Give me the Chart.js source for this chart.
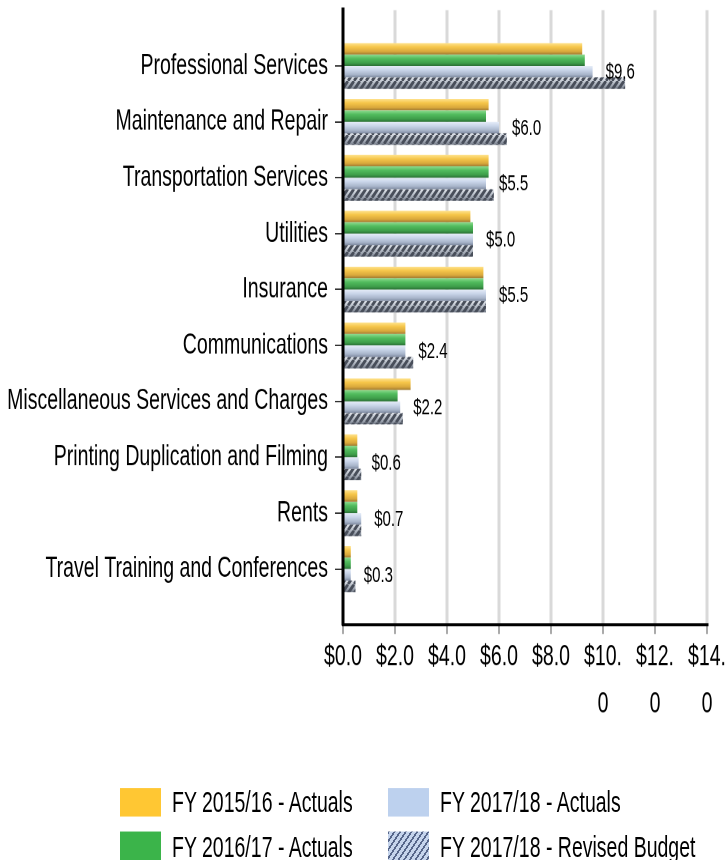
<!DOCTYPE html>
<html><head><meta charset="utf-8">
<script src="https://cdn.jsdelivr.net/npm/chart.js@4.4.1/dist/chart.umd.min.js"></script>
<style>
html,body{margin:0;padding:0;background:#fff;overflow:hidden;width:725px;height:860px;}
#wrap{position:absolute;left:0;top:0;width:725px;height:574px;transform-origin:0 0;transform:scaleY(1.49826);}
#c{position:absolute;left:0;top:0;}
.lg{position:absolute;font-family:'Liberation Sans',Arial,sans-serif;font-size:19.5px;line-height:20px;color:#000;white-space:nowrap;}
.bx{position:absolute;width:41px;height:19px;}
</style></head><body>
<div id="wrap"><canvas id="c" width="725" height="574"></canvas><div id="legend"></div></div>
<script>
// ---- data ----
const categories = ['Professional Services','Maintenance and Repair','Transportation Services','Utilities','Insurance','Communications','Miscellaneous Services and Charges','Printing Duplication and Filming','Rents','Travel Training and Conferences'];
const fy1516Actuals = [9.2, 5.6, 5.6, 4.9, 5.4, 2.4, 2.6, 0.55, 0.55, 0.3];
const fy1617Actuals = [9.3, 5.5, 5.6, 5.0, 5.4, 2.4, 2.1, 0.55, 0.55, 0.3];
const fy1718Actuals = [9.6, 6.0, 5.5, 5.0, 5.5, 2.4, 2.2, 0.6, 0.7, 0.3];
const fy1718Budget  = [10.85, 6.3, 5.8, 5.0, 5.5, 2.7, 2.3, 0.7, 0.7, 0.48];
const seriesNames = ['FY 2015/16 - Actuals','FY 2016/17 - Actuals','FY 2017/18 - Actuals','FY 2017/18 - Revised Budget'];
const xTickLabels = ['$0.0','$2.0','$4.0','$6.0','$8.0','$10.0','$12.0','$14.0'];

// ---- styles ----
const FONT = "'Liberation Sans', Arial, sans-serif";
const flatColors = ['#FFC733','#3BB44A','#BDD1EE','#C5D4EC'];
const gradStops = [
  [[0,'#FFE38E'],[0.35,'#F6C64A'],[0.75,'#D9A83C'],[1,'#A07A32']],
  [[0,'#8FDC90'],[0.35,'#52BC5E'],[0.75,'#3E9E4A'],[1,'#2A6E35']],
  [[0,'#E6EDF8'],[0.35,'#CAD6EA'],[0.75,'#A8B5CA'],[1,'#7E8AA0']],
  [[0,'#E2E6EC'],[0.35,'#C2C8D1'],[0.75,'#9AA1AD'],[1,'#6C7380']]
];

const pad = arr => [null, ...arr, null];
const labels = ['', ...categories, ''];

function makeHatch() {
  const k = 2, p = 6;
  const cv = document.createElement('canvas');
  cv.width = p * k; cv.height = p * k;
  const g = cv.getContext('2d');
  g.scale(k, k);
  g.strokeStyle = '#484E5A';
  g.lineWidth = 2.4;
  g.beginPath();
  for (let o = -p; o <= p * 2; o += p) { g.moveTo(o, p); g.lineTo(o + p, 0); }
  g.stroke();
  const ctx = document.getElementById('c').getContext('2d');
  const pat = ctx.createPattern(cv, 'repeat');
  pat.setTransform(new DOMMatrix([1 / k, 0, 0, 1 / k, 0, 0]));
  return pat;
}
let hatch = null;

const barStylePlugin = {
  id: 'barStyle',
  beforeDatasetsDraw(chart) {
    const ctx = chart.ctx;
    chart.data.datasets.forEach((ds, di) => {
      const meta = chart.getDatasetMeta(di);
      meta.data.forEach(el => {
        if (el.y == null || isNaN(el.y)) return;
        const top = el.y - el.height / 2, bot = el.y + el.height / 2;
        const g = ctx.createLinearGradient(0, top, 0, bot);
        gradStops[di].forEach(s => g.addColorStop(s[0], s[1]));
        const o = el.options, n = {};
        ['borderSkipped','borderWidth','borderColor','borderRadius','inflateAmount','pointStyle'].forEach(k => n[k] = o[k]);
        n.backgroundColor = g;
        el.options = n;
      });
    });
  },
  afterDatasetDraw(chart, args) {
    if (args.index !== 3) return;
    const ctx = chart.ctx;
    if (!hatch) hatch = makeHatch();
    args.meta.data.forEach(el => {
      if (el.y == null || isNaN(el.y)) return;
      const top = el.y - el.height / 2;
      const x0 = Math.min(el.base, el.x), w = Math.abs(el.x - el.base);
      ctx.save();
      ctx.fillStyle = hatch;
      ctx.fillRect(x0, top, w, el.height);
      ctx.restore();
    });
  },
  afterDatasetsDraw(chart) {
    const ctx = chart.ctx;
    const meta = chart.getDatasetMeta(2);
    const vals = chart.data.datasets[2].data;
    ctx.save();
    ctx.font = '15px ' + FONT;
    ctx.fillStyle = '#000';
    ctx.textAlign = 'left';
    ctx.textBaseline = 'middle';
    meta.data.forEach((el, i) => {
      const v = vals[i];
      if (v == null) return;
      ctx.fillText('$' + v.toFixed(1), el.x + 13, el.y + 0.5);
    });
    ctx.restore();
  }
};

Chart.defaults.font.family = FONT;

new Chart(document.getElementById('c'), {
  type: 'bar',
  data: {
    labels: labels,
    datasets: [
      { label: seriesNames[0], data: pad(fy1516Actuals), backgroundColor: flatColors[0] },
      { label: seriesNames[1], data: pad(fy1617Actuals), backgroundColor: flatColors[1] },
      { label: seriesNames[2], data: pad(fy1718Actuals), backgroundColor: flatColors[2] },
      { label: seriesNames[3], data: pad(fy1718Budget),  backgroundColor: flatColors[3] }
    ]
  },
  options: {
    indexAxis: 'y',
    responsive: false,
    devicePixelRatio: 2,
    animation: false,
    events: [],
    layout: { padding: { left: 0, right: 18, top: 6.7, bottom: 0 } },
    datasets: { bar: { categoryPercentage: 0.82, barPercentage: 1.0, borderWidth: 0 } },
    plugins: { legend: { display: false }, tooltip: { enabled: false } },
    scales: {
      x: {
        type: 'linear', min: 0, max: 14,
        ticks: {
          stepSize: 2, autoSkip: false, maxRotation: 0, minRotation: 0, padding: 0,
          color: '#000', font: { size: 19.5, lineHeight: 1.6 },
          callback: (v, i) => { const s = xTickLabels[i] || ''; return s.length > 4 ? [s.slice(0, 4), s.slice(4)] : s; }
        },
        grid: { color: '#D9D9D9', lineWidth: 3, tickLength: 6, tickColor: '#555', tickWidth: 1 },
        border: { color: '#000', width: 2 },
        afterFit: s => { s.height = 574 - 417.1; s.paddingLeft = 0; s.paddingRight = 0; }
      },
      y: {
        type: 'category', offset: false, z: 1,
        ticks: { autoSkip: false, padding: 7, color: '#000', font: { size: 19.5 } },
        grid: { offset: false, drawOnChartArea: false, tickLength: 8, tickWidth: 1,
                tickColor: c => (c.tick && c.tick.label === '') ? 'rgba(0,0,0,0)' : '#333' },
        border: { color: '#000', width: 3 },
        afterFit: s => { s.width = 343; s.paddingTop = 0; s.paddingBottom = 0; }
      }
    }
  },
  plugins: [barStylePlugin]
});

// ---- legend (HTML) ----
(function () {
  const lg = document.getElementById('legend');
  const cols = [120, 388], rows = [525.5, 555];
  const order = [[0, 0, 0], [1, 0, 1], [2, 1, 0], [3, 1, 1]]; // dataset, col, row
  order.forEach(([di, c, r]) => {
    const b = document.createElement('div');
    b.className = 'bx';
    b.style.left = cols[c] + 'px';
    b.style.top = rows[r] + 'px';
    if (di === 3) b.style.background = 'repeating-linear-gradient(135deg, #56668A 0 1.5px, #C5D4EC 1.5px 4px)';
    else b.style.background = flatColors[di];
    lg.appendChild(b);
    const t = document.createElement('div');
    t.className = 'lg';
    t.style.left = (cols[c] + 52) + 'px';
    t.style.top = (rows[r] - 0.5) + 'px';
    t.textContent = seriesNames[di];
    lg.appendChild(t);
  });
})();
</script>
</body></html>
